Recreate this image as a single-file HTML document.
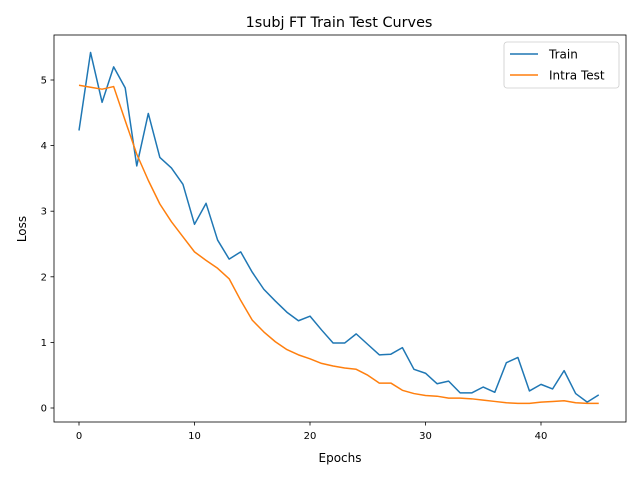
<!DOCTYPE html>
<html><head><meta charset="utf-8"><style>
body{margin:0;background:#fff;}
svg text{font-family:"DejaVu Sans","Liberation Sans",sans-serif;fill:#000;}
</style></head><body>
<svg id="chart" width="640" height="480" xmlns="http://www.w3.org/2000/svg">
<text x="339" y="27" font-size="14.4" text-anchor="middle">1subj FT Train Test Curves</text>
<g id="ticks"></g>
<g id="lines"></g>
<rect x="54" y="35" width="572" height="387" fill="none" stroke="#000" stroke-width="0.8"/>
<text x="340" y="462" font-size="12" text-anchor="middle">Epochs</text>
<text x="26" y="229" font-size="12" text-anchor="middle" transform="rotate(-90 26 229)">Loss</text>
<g>
<rect x="504" y="42" width="115" height="46" rx="3" fill="#fff" stroke="#ccc" stroke-width="0.8"/>
<g><line x1="510" y1="54" x2="538" y2="54" stroke="#1f77b4" stroke-width="1.5"/><text x="549" y="58.5" font-size="12">Train</text></g>
<g><line x1="510" y1="75" x2="538" y2="75" stroke="#ff7f0e" stroke-width="1.5"/><text x="549" y="79.5" font-size="12">Intra Test</text></g>
</g>
</svg>
<script>
const train=[4.23,5.42,4.66,5.2,4.88,3.69,4.49,3.82,3.66,3.41,2.8,3.12,2.56,2.27,2.38,2.07,1.81,1.63,1.46,1.33,1.4,1.19,0.99,0.99,1.13,0.97,0.81,0.82,0.92,0.59,0.53,0.37,0.41,0.23,0.23,0.32,0.24,0.69,0.77,0.26,0.36,0.29,0.57,0.22,0.09,0.2];
const intraTest=[4.92,4.89,4.86,4.9,4.38,3.87,3.47,3.11,2.84,2.61,2.38,2.25,2.13,1.97,1.64,1.34,1.16,1.01,0.89,0.81,0.75,0.68,0.64,0.61,0.59,0.5,0.38,0.38,0.27,0.22,0.19,0.18,0.15,0.15,0.14,0.12,0.1,0.08,0.07,0.07,0.09,0.1,0.11,0.08,0.07,0.07];
const xTicks=[0,10,20,30,40];
const yTicks=[0,1,2,3,4,5];
const ns="http://www.w3.org/2000/svg";
const X=v=>79+v*11.55, Y=v=>408-v*65.6;
const tg=document.getElementById('ticks'), lg=document.getElementById('lines');
function mk(t,a,p){const e=document.createElementNS(ns,t);for(const k in a)e.setAttribute(k,a[k]);p.appendChild(e);return e;}
xTicks.forEach(v=>{
 const l=mk('line',{x1:X(v),x2:X(v),y1:422,y2:425.5,stroke:'#000','stroke-width':0.8},tg);
 
 
 const t=mk('text',{x:X(v),y:439,'font-size':10,'text-anchor':'middle'},tg);t.textContent=v;
 
 
});
yTicks.forEach(v=>{
 const l=mk('line',{x1:50.5,x2:54,y1:Y(v),y2:Y(v),stroke:'#000','stroke-width':0.8},tg);
 
 
 const t=mk('text',{x:47,y:Y(v)+3.5,'font-size':10,'text-anchor':'end'},tg);t.textContent=v;
 
 
});
function line(d,c,name){
 const p=mk('polyline',{points:d.map((v,i)=>X(i)+','+Y(v)).join(' '),fill:'none',stroke:c,'stroke-width':1.5,'stroke-linejoin':'round'},lg);
 
 
}
line(train,'#1f77b4','train-line');
line(intraTest,'#ff7f0e','intra-test-line');
</script>
</body></html>
